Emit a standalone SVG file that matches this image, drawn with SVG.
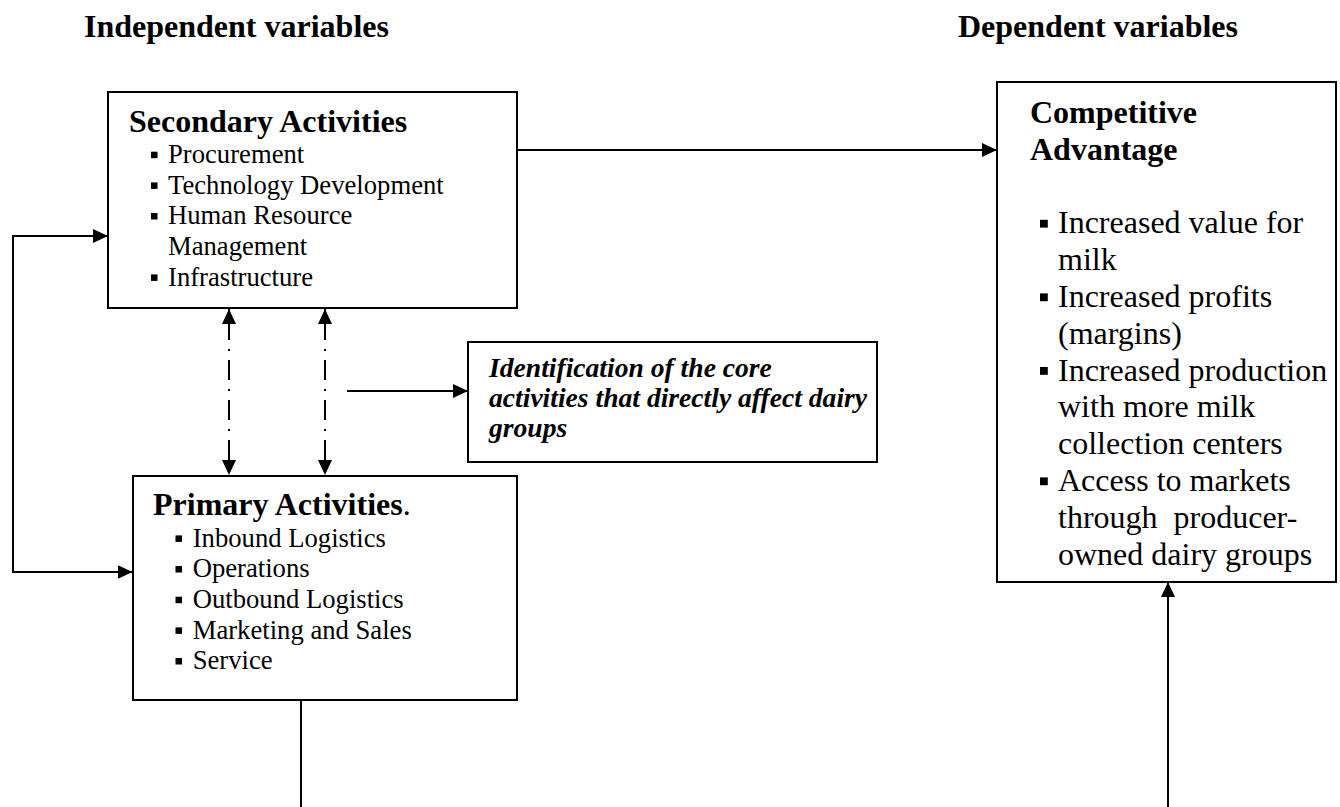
<svg xmlns="http://www.w3.org/2000/svg" width="1340" height="807" viewBox="0 0 1340 807">
  <defs>
    <marker id="arr" viewBox="0 0 15 14" refX="15" refY="7" markerWidth="15" markerHeight="14" markerUnits="userSpaceOnUse" orient="auto-start-reverse">
      <path d="M0,0 L15,7 L0,14 Z" fill="#000"/>
    </marker>
    <style>
      .box { fill: #fff; stroke: #000; stroke-width: 2; }
      .hdr { font-family: "Liberation Serif", "Times New Roman", serif; font-weight: bold; font-size: 32px; fill: #000; }
      .ttl { font-family: "Liberation Serif", "Times New Roman", serif; font-weight: bold; font-size: 32px; fill: #000; }
      .itm { font-family: "Liberation Serif", "Times New Roman", serif; font-size: 26.67px; fill: #000; }
      .big { font-family: "Liberation Serif", "Times New Roman", serif; font-size: 32px; fill: #000; }
      .idf { font-family: "Liberation Serif", "Times New Roman", serif; font-weight: bold; font-style: italic; font-size: 27.6px; fill: #000; }
      .ln { fill: none; stroke: #000; stroke-width: 2; }
      .dd { fill: none; stroke: #000; stroke-width: 2; stroke-dasharray: 20 9 2 9; stroke-dashoffset: 29; }
    </style>
  </defs>
  <rect width="1340" height="807" fill="#fff"/>

  <g id="headers">
    <text class="hdr" x="84" y="37">Independent variables</text>
    <text class="hdr" x="958" y="37">Dependent variables</text>
  </g>

  <g id="connectors">
    <line class="ln" x1="517" y1="150" x2="997" y2="150" marker-end="url(#arr)"/>
    <polyline class="ln" points="132,572 13,572 13,236 108,236" marker-end="url(#arr)"/>
    <line class="ln" x1="13" y1="572" x2="132.5" y2="572" marker-end="url(#arr)"/>
    <line class="dd" x1="229" y1="309" x2="229" y2="475" marker-start="url(#arr)" marker-end="url(#arr)"/>
    <line class="dd" x1="325" y1="309" x2="325" y2="475" marker-start="url(#arr)" marker-end="url(#arr)"/>
    <line class="ln" x1="347" y1="391" x2="468" y2="391" marker-end="url(#arr)"/>
    <line class="ln" x1="301" y1="700" x2="301" y2="807"/>
    <line class="ln" x1="1168" y1="807" x2="1168" y2="582" marker-end="url(#arr)"/>
  </g>

  <g id="secondary">
    <rect class="box" x="108" y="92" width="409" height="216"/>
    <text class="ttl" x="129" y="132">Secondary Activities</text>
    <rect x="151" y="151.7" width="6.5" height="6.5"/>
    <text class="itm" x="168" y="163">Procurement</text>
    <rect x="151" y="182.4" width="6.5" height="6.5"/>
    <text class="itm" x="168" y="193.7">Technology Development</text>
    <rect x="151" y="213" width="6.5" height="6.5"/>
    <text class="itm" x="168" y="224.3">Human Resource</text>
    <text class="itm" x="168" y="255">Management</text>
    <rect x="151" y="274.4" width="6.5" height="6.5"/>
    <text class="itm" x="168" y="285.7">Infrastructure</text>
  </g>

  <g id="identification">
    <rect class="box" x="468" y="342" width="409" height="120"/>
    <text class="idf" x="489" y="377">Identification of the core</text>
    <text class="idf" x="489" y="407">activities that directly affect dairy</text>
    <text class="idf" x="489" y="436.5">groups</text>
  </g>

  <g id="primary">
    <rect class="box" x="133" y="476" width="384" height="224"/>
    <text class="ttl" x="153" y="515">Primary Activities<tspan font-weight="normal">.</tspan></text>
    <rect x="175.5" y="535.4" width="6.5" height="6.5"/>
    <text class="itm" x="192.7" y="546.7">Inbound Logistics</text>
    <rect x="175.5" y="566" width="6.5" height="6.5"/>
    <text class="itm" x="192.7" y="577.3">Operations</text>
    <rect x="175.5" y="596.7" width="6.5" height="6.5"/>
    <text class="itm" x="192.7" y="608">Outbound Logistics</text>
    <rect x="175.5" y="627.4" width="6.5" height="6.5"/>
    <text class="itm" x="192.7" y="638.7">Marketing and Sales</text>
    <rect x="175.5" y="658" width="6.5" height="6.5"/>
    <text class="itm" x="192.7" y="669.3">Service</text>
  </g>

  <g id="competitive">
    <rect class="box" x="997" y="82" width="339" height="500"/>
    <text class="ttl" x="1030" y="123">Competitive</text>
    <text class="ttl" x="1030" y="159.8">Advantage</text>
    <rect x="1040" y="219.8" width="7.8" height="7.8"/>
    <text class="big" x="1058" y="233.4">Increased value for</text>
    <text class="big" x="1058" y="270.2">milk</text>
    <rect x="1040" y="293.4" width="7.8" height="7.8"/>
    <text class="big" x="1058" y="307">Increased profits</text>
    <text class="big" x="1058" y="343.8">(margins)</text>
    <rect x="1040" y="367" width="7.8" height="7.8"/>
    <text class="big" x="1058" y="380.6">Increased production</text>
    <text class="big" x="1058" y="417.4">with more milk</text>
    <text class="big" x="1058" y="454.2">collection centers</text>
    <rect x="1040" y="477.4" width="7.8" height="7.8"/>
    <text class="big" x="1058" y="491">Access to markets</text>
    <text class="big" x="1058" y="527.8" style="white-space:pre">through  producer-</text>
    <text class="big" x="1058" y="564.6">owned dairy groups</text>
  </g>
</svg>
